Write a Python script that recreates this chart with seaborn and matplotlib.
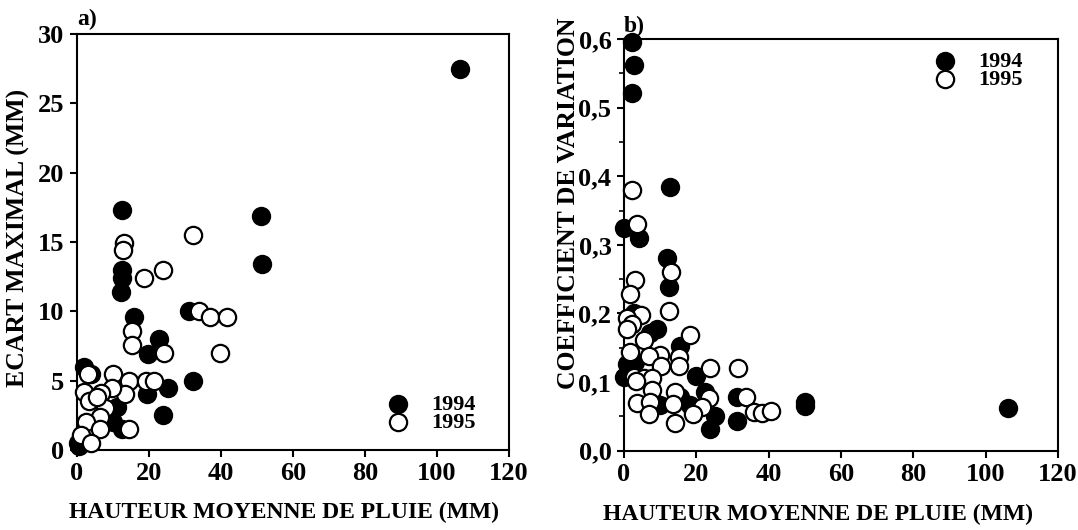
import pandas as pd
import matplotlib
matplotlib.use("Agg")
import matplotlib.pyplot as plt
from matplotlib.ticker import MultipleLocator, FuncFormatter
import seaborn as sns

# panel a) : ecart maximal vs hauteur moyenne
a94_x = [106.5, 12.5, 51.0, 51.5, 12.5, 12.5, 12.1, 15.8, 31.0, 22.8, 19.6, 32.3,
         25.3, 19.4, 23.9, 2.0, 11.0, 10.1, 12.5, 0.3, 4.0, 0.5]
a94_y = [27.5, 17.3, 16.9, 13.4, 13.0, 12.4, 11.4, 9.6, 10.0, 8.0, 6.9, 5.0,
         4.5, 4.0, 2.5, 6.0, 3.1, 2.0, 1.5, 0.5, 5.5, 0.3]
a95_x = [32.3, 13.2, 12.8, 23.9, 18.7, 33.9, 37.0, 41.8, 15.3, 15.3, 24.1, 39.6,
         3.1, 10.1, 14.4, 19.1, 21.5, 13.4, 9.6, 6.8, 2.0, 3.4, 7.7, 6.3,
         2.5, 6.5, 14.4, 1.0, 3.9, 5.5]
a95_y = [15.5, 14.9, 14.4, 13.0, 12.4, 10.0, 9.6, 9.6, 8.6, 7.6, 7.0, 7.0,
         5.5, 5.5, 5.0, 5.0, 5.0, 4.0, 4.5, 4.1, 4.2, 3.5, 3.0, 2.4,
         2.0, 1.5, 1.5, 1.1, 0.5, 3.8]

# panel b) : coefficient de variation vs hauteur moyenne
b94_x = [2.3, 2.9, 2.3, 12.7, 0.1, 4.1, 11.9, 12.4, 9.2, 7.3, 15.6, 20.0, 22.5,
         31.3, 31.3, 25.1, 23.7, 50.1, 50.1, 10.1, 18.4, 0.9, 0.1, 2.7, 15.6,
         3.0, 8.0, 106.2]
b94_y = [0.596, 0.562, 0.521, 0.384, 0.325, 0.310, 0.281, 0.238, 0.178, 0.171,
         0.152, 0.109, 0.086, 0.078, 0.044, 0.051, 0.031, 0.065, 0.071, 0.066,
         0.066, 0.127, 0.108, 0.200, 0.078, 0.130, 0.072, 0.062]
b95_x = [2.3, 3.5, 13.1, 3.0, 1.6, 12.4, 4.7, 0.9, 2.3, 0.9, 18.4, 5.5, 1.8,
         10.1, 6.9, 15.3, 15.3, 10.3, 23.9, 31.4, 2.7, 5.5, 7.8, 3.2, 7.8, 14.2,
         23.4, 33.8, 3.6, 7.1, 13.6, 21.6, 19.1, 6.9, 14.2, 35.9, 38.2, 40.7]
b95_y = [0.380, 0.330, 0.261, 0.249, 0.229, 0.204, 0.198, 0.194, 0.185, 0.178,
         0.168, 0.161, 0.144, 0.140, 0.138, 0.136, 0.124, 0.124, 0.120, 0.120,
         0.108, 0.106, 0.106, 0.102, 0.089, 0.086, 0.077, 0.079, 0.069, 0.071,
         0.068, 0.064, 0.054, 0.054, 0.040, 0.057, 0.055, 0.058]

XLABEL = "HAUTEUR MOYENNE DE PLUIE (MM)"

sns.set_theme(style="ticks")
plt.rcParams.update({
    "font.family": ["Liberation Serif", "DejaVu Serif"],
    "font.weight": "bold",
    "axes.labelweight": "bold",
    "axes.labelcolor": "black",
    "axes.linewidth": 1.5,
    "xtick.major.width": 1.5,
    "ytick.major.width": 1.5,
    "ytick.minor.width": 1.2,
    "xtick.major.size": 5,
    "ytick.major.size": 5,
    "ytick.minor.size": 3.5,
    "xtick.color": "black",
    "ytick.color": "black",
    "axes.edgecolor": "black",
    "text.color": "black",
})

fig = plt.figure(figsize=(10.78, 5.30), dpi=100)
ax1 = fig.add_axes([0.0714, 0.151, 0.4007, 0.785])
ax2 = fig.add_axes([0.5788, 0.1496, 0.4026, 0.7768])

def draw(ax, x94, y94, x95, y95):
    d94 = pd.DataFrame({"x": x94, "y": y94})
    d95 = pd.DataFrame({"x": x95, "y": y95})
    sns.scatterplot(data=d94, x="x", y="y", ax=ax, s=155, color="black",
                    edgecolor="black", linewidth=1.5, label="1994", clip_on=False, zorder=3)
    sns.scatterplot(data=d95, x="x", y="y", ax=ax, s=155, color="white",
                    edgecolor="black", linewidth=1.6, label="1995", clip_on=False, zorder=4)
    ax.set_xlim(0, 120)
    ax.xaxis.set_major_locator(MultipleLocator(20))
    for sp in ax.spines.values():
        sp.set_visible(True)
        sp.set_linewidth(1.5)
    ax.tick_params(axis="both", labelsize=19, pad=4, direction="out")
    for lab in ax.get_xticklabels() + ax.get_yticklabels():
        lab.set_fontweight("bold")
    ax.set_xlabel(XLABEL, fontsize=17, fontweight="bold")

draw(ax1, a94_x, a94_y, a95_x, a95_y)
ax1.set_ylim(0, 30)
ax1.yaxis.set_major_locator(MultipleLocator(5))
ax1.set_ylabel("ECART MAXIMAL (MM)", fontsize=18.5, fontweight="bold")
ax1.xaxis.set_label_coords(0.479, -0.125)
ax1.yaxis.set_label_coords(-0.108, 0.51)
ax1.legend(loc="upper left", bbox_to_anchor=(0.718, 0.134), frameon=False,
           handlelength=1.0, handletextpad=1.0, labelspacing=-0.1,
           borderpad=0, borderaxespad=0, prop={"weight": "bold", "size": 16})
ax1.text(0.0, 1.01, "a)", transform=ax1.transAxes, fontsize=17,
         fontweight="bold", va="bottom", ha="left")

draw(ax2, b94_x, b94_y, b95_x, b95_y)
ax2.set_ylim(0, 0.6)
ax2.yaxis.set_major_locator(MultipleLocator(0.1))
ax2.yaxis.set_minor_locator(MultipleLocator(0.05))
ax2.yaxis.set_major_formatter(FuncFormatter(lambda v, p: f"{v:.1f}".replace(".", ",")))
ax2.set_ylabel("COEFFICIENT DE VARIATION", fontsize=18.5, fontweight="bold")
ax2.xaxis.set_label_coords(0.447, -0.128)
ax2.yaxis.set_label_coords(-0.101, 0.60)
ax2.legend(loc="upper left", bbox_to_anchor=(0.714, 0.971), frameon=False,
           handlelength=1.0, handletextpad=1.0, labelspacing=-0.1,
           borderpad=0, borderaxespad=0, prop={"weight": "bold", "size": 16})
ax2.text(0.0, 1.005, "b)", transform=ax2.transAxes, fontsize=17,
         fontweight="bold", va="bottom", ha="left")

fig.savefig("out.png", dpi=100, facecolor="white")
